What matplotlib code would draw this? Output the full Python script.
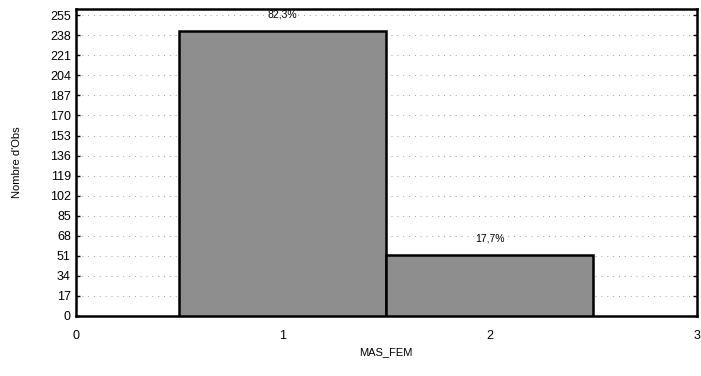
import matplotlib
matplotlib.use("Agg")
import matplotlib.pyplot as plt
import numpy as np

plt.rcParams['font.family'] = ['Liberation Sans', 'DejaVu Sans']

categories = [1, 2]
counts = [242, 52]
pct_labels = ["82,3%", "17,7%"]
y_ticks = list(range(0, 256, 17))
x_ticks = [0, 1, 2, 3]

fig = plt.figure(figsize=(7.01, 3.76), dpi=100)
ax = fig.add_axes([0.108, 0.160, 0.886, 0.815])

ax.bar(categories, counts, width=1.0, align='center',
       color='#8e8e8e', edgecolor='black', linewidth=1.8, zorder=3)

for x, c, lab in zip(categories, counts, pct_labels):
    ax.text(x, c + 14, lab, ha='center', va='center', fontsize=7.5, zorder=4)

ax.set_xlim(0, 3)
ax.set_ylim(0, 260)
ax.set_yticks(y_ticks)
ax.set_xticks(x_ticks)
ax.tick_params(axis='y', direction='in', length=3, labelsize=9, right=True, width=1)
ax.tick_params(axis='x', length=0, labelsize=9, pad=10)

for y in y_ticks[1:]:
    ax.axhline(y, color='#a0a0a0', linestyle=(0, (1, 5)), linewidth=0.7, zorder=1)

for s in ax.spines.values():
    s.set_linewidth(1.8)

ax.set_ylabel("Nombre d'Obs", fontsize=8, labelpad=20)
ax.set_xlabel("MAS_FEM", fontsize=8, labelpad=4)

fig.savefig("out.png", dpi=100)
